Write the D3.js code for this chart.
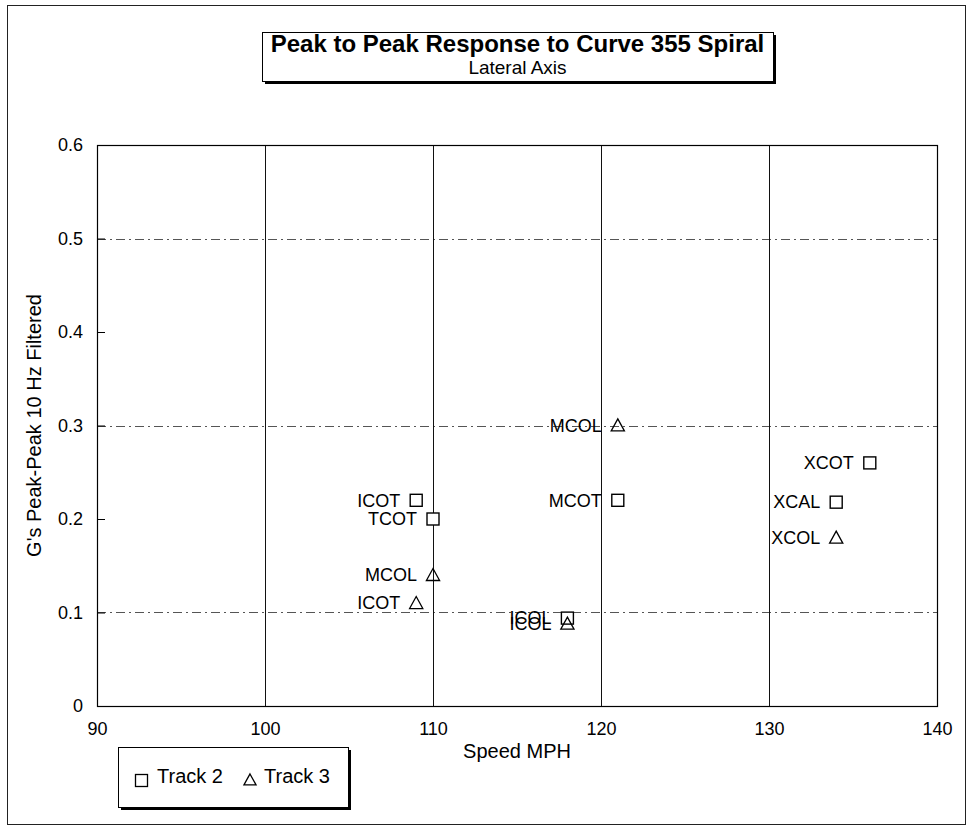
<!DOCTYPE html>
<html>
<head>
<meta charset="utf-8">
<script src="https://cdn.jsdelivr.net/npm/d3@7"></script>
<style>
  html, body { margin: 0; padding: 0; background: #fff; }
  svg { display: block; font-family: "Liberation Sans", Arial, Helvetica, sans-serif; }
</style>
</head>
<body>
<svg id="chart" width="974" height="827"></svg>
<script>
// ---- Data ----
const titleText = "Peak to Peak Response to Curve 355 Spiral";
const subtitleText = "Lateral Axis";
const xTitle = "Speed MPH";
const yTitle = "G's Peak-Peak 10 Hz Filtered";

const xTicks = [90, 100, 110, 120, 130, 140];
const yTicks = [0, 0.1, 0.2, 0.3, 0.4, 0.5, 0.6];
const hGridValues = [0.1, 0.3, 0.5];
const vGridValues = [100, 110, 120, 130];

// Track 2 (squares)
const track2Labels = ["ICOT", "TCOT", "MCOT", "ICOL", "XCOT", "XCAL"];
const track2Speed  = [109, 110, 121, 118, 136, 134];
const track2G      = [0.22, 0.20, 0.22, 0.094, 0.26, 0.218];

// Track 3 (triangles)
const track3Labels = ["MCOL", "MCOL", "ICOT", "ICOL", "XCOL"];
const track3Speed  = [121, 110, 109, 118, 134];
const track3G      = [0.30, 0.14, 0.11, 0.088, 0.18];

const seriesNames = ["Track 2", "Track 3"];

// ---- Chart ----
const svg = d3.select("#chart");
const W = 974, H = 827;
const plot = { left: 97, right: 937, top: 145, bottom: 706 };

const x = d3.scaleLinear().domain([90, 140]).range([plot.left, plot.right]);
const y = d3.scaleLinear().domain([0, 0.6]).range([plot.bottom, plot.top]);

// outer frame
svg.append("rect")
  .attr("x", 7.5).attr("y", 5.5).attr("width", 958).attr("height", 819)
  .attr("fill", "none").attr("stroke", "#222").attr("stroke-width", 1);

// horizontal dash-dot gridlines
svg.append("g").selectAll("line").data(hGridValues).join("line")
  .attr("x1", plot.left).attr("x2", plot.right)
  .attr("y1", d => Math.round(y(d)) + 0.5).attr("y2", d => Math.round(y(d)) + 0.5)
  .attr("stroke", "#555").attr("stroke-width", 1)
  .attr("stroke-dasharray", "9,4,2,4");

// vertical gridlines
svg.append("g").selectAll("line").data(vGridValues).join("line")
  .attr("x1", d => Math.round(x(d)) + 0.5).attr("x2", d => Math.round(x(d)) + 0.5)
  .attr("y1", plot.top).attr("y2", plot.bottom)
  .attr("stroke", "#111").attr("stroke-width", 1);

// plot frame
svg.append("rect")
  .attr("x", plot.left + 0.5).attr("y", plot.top + 0.5)
  .attr("width", plot.right - plot.left).attr("height", plot.bottom - plot.top)
  .attr("fill", "none").attr("stroke", "#000").attr("stroke-width", 1.2);

// axes
const xAxis = d3.axisBottom(x).tickValues(xTicks).tickSize(0).tickPadding(16)
  .tickFormat(d3.format("d"));
const gx = svg.append("g").attr("transform", `translate(0,${plot.bottom})`).call(xAxis);
gx.select(".domain").remove();
gx.selectAll("text").attr("font-size", 18).attr("fill", "#000")
  .style("font-family", "Liberation Sans, Arial, sans-serif");

const yAxis = d3.axisLeft(y).tickValues(yTicks).tickSize(-8).tickPadding(14)
  .tickFormat(d => d === 0 ? "0" : d3.format(".1f")(d));
const gy = svg.append("g").attr("transform", `translate(${plot.left},0)`).call(yAxis);
gy.select(".domain").remove();
gy.selectAll("line").attr("stroke", "#000");
gy.selectAll("text").attr("font-size", 18).attr("fill", "#000")
  .style("font-family", "Liberation Sans, Arial, sans-serif");

// axis titles
svg.append("text")
  .attr("x", (plot.left + plot.right) / 2).attr("y", 758)
  .attr("text-anchor", "middle").attr("font-size", 20).attr("fill", "#000")
  .text(xTitle);
svg.append("text")
  .attr("transform", `translate(41,${(plot.top + plot.bottom) / 2}) rotate(-90)`)
  .attr("text-anchor", "middle").attr("font-size", 20).attr("fill", "#000")
  .text(yTitle);

// title box with shadow
const tb = { x: 262, y: 32, w: 511, h: 49 };
svg.append("rect").attr("x", tb.x + 3).attr("y", tb.y + 3).attr("width", tb.w).attr("height", tb.h)
  .attr("fill", "#000");
svg.append("rect").attr("x", tb.x + 0.5).attr("y", tb.y + 0.5).attr("width", tb.w).attr("height", tb.h)
  .attr("fill", "#fff").attr("stroke", "#000").attr("stroke-width", 1);
svg.append("text").attr("x", tb.x + tb.w / 2).attr("y", 52)
  .attr("text-anchor", "middle").attr("font-size", 24).attr("font-weight", "bold").attr("fill", "#000")
  .text(titleText);
svg.append("text").attr("x", tb.x + tb.w / 2).attr("y", 74)
  .attr("text-anchor", "middle").attr("font-size", 19).attr("fill", "#000")
  .text(subtitleText);

// markers
const sq = 12;
const triPath = (s) => `M0,${-s * 0.55}L${s * 0.55},${s * 0.45}L${-s * 0.55},${s * 0.45}Z`;

const t2 = track2Speed.map((v, i) => ({ x: v, y: track2G[i], label: track2Labels[i] }));
const t3 = track3Speed.map((v, i) => ({ x: v, y: track3G[i], label: track3Labels[i] }));

const g2 = svg.append("g");
g2.selectAll("rect").data(t2).join("rect")
  .attr("x", d => x(d.x) - sq / 2).attr("y", d => y(d.y) - sq / 2)
  .attr("width", sq).attr("height", sq)
  .attr("fill", "#fff").attr("stroke", "#000").attr("stroke-width", 1.4);
g2.selectAll("text").data(t2).join("text")
  .attr("x", d => x(d.x) - 16).attr("y", d => y(d.y)).attr("dy", "0.35em")
  .attr("text-anchor", "end").attr("font-size", 18).attr("fill", "#000")
  .text(d => d.label);

const g3 = svg.append("g");
g3.selectAll("path").data(t3).join("path")
  .attr("transform", d => `translate(${x(d.x)},${y(d.y)})`)
  .attr("d", triPath(12))
  .attr("fill", "none").attr("stroke", "#000").attr("stroke-width", 1.3);
g3.selectAll("text").data(t3).join("text")
  .attr("x", d => x(d.x) - 16).attr("y", d => y(d.y)).attr("dy", "0.35em")
  .attr("text-anchor", "end").attr("font-size", 18).attr("fill", "#000")
  .text(d => d.label);

// legend
const lb = { x: 118, y: 747, w: 230, h: 60 };
svg.append("rect").attr("x", lb.x + 3).attr("y", lb.y + 3).attr("width", lb.w).attr("height", lb.h)
  .attr("fill", "#000");
svg.append("rect").attr("x", lb.x + 0.5).attr("y", lb.y + 0.5).attr("width", lb.w).attr("height", lb.h)
  .attr("fill", "#fff").attr("stroke", "#000").attr("stroke-width", 1);
svg.append("rect").attr("x", 135.5).attr("y", 774.5).attr("width", 12).attr("height", 12)
  .attr("fill", "#fff").attr("stroke", "#000").attr("stroke-width", 1.3);
svg.append("text").attr("x", 157).attr("y", 783).attr("font-size", 20).attr("fill", "#000").text(seriesNames[0]);
svg.append("path").attr("transform", "translate(250,780)").attr("d", triPath(11))
  .attr("fill", "none").attr("stroke", "#000").attr("stroke-width", 1.3);
svg.append("text").attr("x", 264).attr("y", 783).attr("font-size", 20).attr("fill", "#000").text(seriesNames[1]);
</script>
</body>
</html>
